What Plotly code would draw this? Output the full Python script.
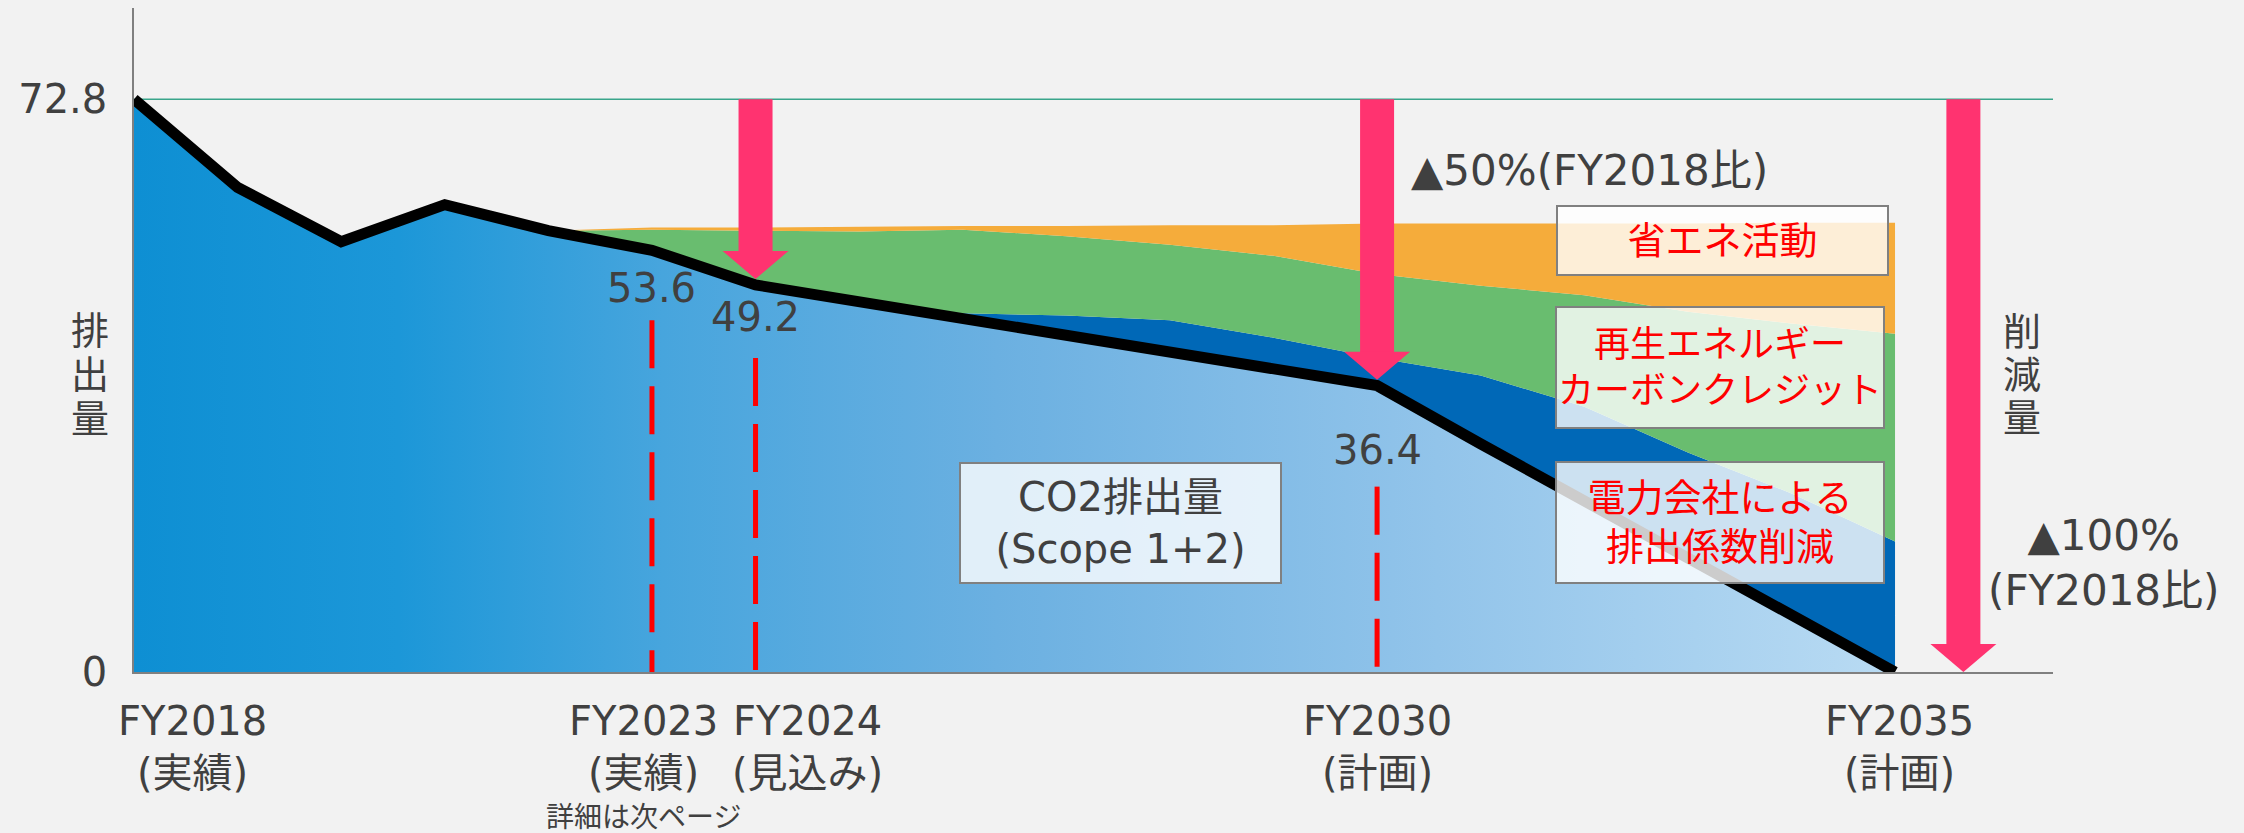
import numpy as np
import plotly.graph_objects as go

# ---------------- data ----------------
years = [2018, 2019, 2020, 2021, 2022, 2023, 2024, 2025, 2026,
         2027, 2028, 2029, 2030, 2031, 2032, 2033, 2034, 2035]
co2 = [72.8, 61.6, 54.7, 59.4, 56.1, 53.6, 49.2, 47.1, 45.0,
       42.8, 40.7, 38.5, 36.4, 29.0, 21.8, 14.5, 7.2, 0.0]

# reduction wedges stacked on top of the CO2 line (FY2022 .. FY2035)
red_years = [2022, 2023, 2024, 2025, 2026, 2027, 2028,
             2029, 2030, 2031, 2032, 2033, 2034, 2035]
red_power = [0, 0, 0, 0, 0.6, 2.5, 4.0, 4.0, 3.5, 8.7, 11.9, 13.4, 15.5, 16.6]
red_renew = [0, 2.6, 6.9, 8.9, 10.6, 10.1, 9.6, 10.4, 10.7, 11.4, 14.2, 17.9, 21.6, 26.4]
red_saving = [0, 0.3, 0.4, 0.6, 0.5, 1.3, 2.5, 3.9, 6.4, 7.9, 9.1, 11.2, 12.8, 14.1]

base_year = 2018
marked_years = [2023, 2024, 2030]
arrow_years = [2024, 2030]
final_year = 2035

tick_years = [2018, 2023, 2024, 2030, 2035]
tick_labels = ["FY2018<br>(実績)", "FY2023<br>(実績)", "FY2024<br>(見込み)",
               "FY2030<br>(計画)", "FY2035<br>(計画)"]
tick_note = "詳細は次ページ"

# ---------------- layout constants ----------------
W, H = 2244, 833
ML, MR, MT, MB = 134, 191, 8, 161
X_RANGE = [2018, 2036.525]
Y_RANGE = [0, 84.4]
PX_PER_Y = (H - MT - MB) / (Y_RANGE[1] - Y_RANGE[0])

FONT = "DejaVu Sans, Noto Sans CJK JP"
GREY_TXT = "#404040"
PINK = "#FF3370"
RED = "#FF0000"

base_value = co2[years.index(base_year)]

fig = go.Figure()

# CO2 emissions area with horizontal gradient
fig.add_trace(go.Scatter(
    x=years, y=co2, mode="lines", line=dict(width=0), fill="tozeroy",
    fillgradient=dict(type="horizontal", colorscale=[
        [0.0, "#0E8FD3"], [0.15, "#1C97D8"], [0.30, "#47A5DD"],
        [0.49, "#6BB0E1"], [0.74, "#92C4EA"], [1.0, "#B9DBF3"]]),
    hoverinfo="skip", showlegend=False))

# stacked reduction wedges
i0 = years.index(red_years[0])
base = np.array(co2[i0:i0 + len(red_years)])
top1 = base + np.array(red_power)
top2 = top1 + np.array(red_renew)
top3 = top2 + np.array(red_saving)

fig.add_trace(go.Scatter(x=red_years, y=base, mode="lines", line=dict(width=0),
                         hoverinfo="skip", showlegend=False))
for top, color in [(top1, "#0068B7"), (top2, "#69BD6F"), (top3, "#F5AC3B")]:
    fig.add_trace(go.Scatter(x=red_years, y=top, mode="lines", line=dict(width=0),
                             fill="tonexty", fillcolor=color,
                             hoverinfo="skip", showlegend=False))

# red dashed markers under value labels
dash_gap_px = [70, 73, 101]
label_gap_px = [38, 32, 64]
for yr, gap in zip(marked_years, dash_gap_px):
    v = co2[years.index(yr)]
    fig.add_trace(go.Scatter(x=[yr, yr], y=[v - gap / PX_PER_Y, 0], mode="lines",
                             line=dict(color=RED, width=5, dash="48px,18px"),
                             hoverinfo="skip", showlegend=False))

# black CO2 line
fig.add_trace(go.Scatter(x=years, y=co2, mode="lines",
                         line=dict(color="black", width=11),
                         hoverinfo="skip", showlegend=False))

# value labels
for yr, gap in zip(marked_years, label_gap_px):
    v = co2[years.index(yr)]
    fig.add_annotation(x=yr, y=v, xref="x", yref="y", text=f"{v:.1f}",
                       showarrow=False, yshift=-gap,
                       font=dict(size=40, color=GREY_TXT))

# reference line at FY2018 level
fig.add_shape(type="line", xref="paper", yref="y", x0=0, x1=1,
              y0=base_value, y1=base_value, layer="below",
              line=dict(color="#3AA58B", width=1.5))

# pink arrows
HEAD_W, HEAD_L, SHAFT_W = 33, 28, 34


def add_arrow(x, y_tip, gap_px):
    fig.add_shape(type="line", xref="x", yref="y", x0=x, x1=x, y0=base_value,
                  y1=y_tip + (gap_px + HEAD_L - 1) / PX_PER_Y,
                  line=dict(color=PINK, width=SHAFT_W))
    fig.add_shape(type="path", xref="x", yref="y", xsizemode="pixel",
                  ysizemode="pixel", xanchor=x, yanchor=y_tip,
                  path=f"M{-HEAD_W},{gap_px + HEAD_L} L{HEAD_W},{gap_px + HEAD_L} L0,{gap_px} Z",
                  fillcolor=PINK, line=dict(width=0))


for yr in arrow_years:
    add_arrow(yr, co2[years.index(yr)], 6)
add_arrow(final_year + 0.66, co2[years.index(final_year)], 0)

# x tick labels (small horizontal nudges keep neighbouring labels apart)
tick_xshift = [58, -8, 52, 0, 4]
for yr, lab, dx in zip(tick_years, tick_labels, tick_xshift):
    fig.add_annotation(x=yr, y=0, xref="x", yref="y", text=lab, showarrow=False,
                       xanchor="center", yanchor="top", yshift=-24, xshift=dx,
                       font=dict(size=40, color=GREY_TXT))
fig.add_annotation(x=2023, y=0, xref="x", yref="y", text=tick_note, showarrow=False,
                   xanchor="center", yanchor="middle", yshift=-145, xshift=-8,
                   font=dict(size=28, color=GREY_TXT))

# vertical axis titles
for i, ch in enumerate("排出量"):
    fig.add_annotation(x=0, xref="paper", y=37.8, yref="y", text=ch, showarrow=False,
                       xanchor="center", xshift=-44, yshift=(1 - i) * 44,
                       font=dict(size=38, color=GREY_TXT))
for i, ch in enumerate("削減量"):
    fig.add_annotation(x=1, xref="paper", y=37.8, yref="y", text=ch, showarrow=False,
                       xanchor="center", xshift=-31, yshift=(1 - i) * 43,
                       font=dict(size=38, color=GREY_TXT))

# reduction texts
fig.add_annotation(x=arrow_years[1], y=63.8, xref="x", yref="y",
                   text="▲50%(FY2018比)", showarrow=False, xanchor="left",
                   xshift=32, font=dict(size=42, color=GREY_TXT))
fig.add_annotation(x=1, xref="paper", y=13.8, yref="y",
                   text="▲100%<br>(FY2018比)", showarrow=False, xanchor="center",
                   xshift=50, font=dict(size=42, color=GREY_TXT))

# labelled boxes
BOX = dict(showarrow=False, bgcolor="rgba(255,255,255,0.8)", bordercolor="#808080",
           borderwidth=2, borderpad=0, align="center", valign="middle",
           xref="x", yref="y", xanchor="center", yanchor="middle")
fig.add_annotation(x=2027.52, y=19.0, text="CO2排出量<br>(Scope 1+2)",
                   width=319, height=118, font=dict(size=40, color=GREY_TXT), **BOX)
fig.add_annotation(x=2033.33, y=54.9, text="省エネ活動",
                   width=329, height=67, font=dict(size=38, color=RED), **BOX)
fig.add_annotation(x=2033.31, y=38.7, text="再生エネルギー<br>カーボンクレジット",
                   width=326, height=119, font=dict(size=36, color=RED), **BOX)
fig.add_annotation(x=2033.31, y=19.0, text="電力会社による<br>排出係数削減",
                   width=326, height=119, font=dict(size=38, color=RED), **BOX)

fig.update_layout(
    width=W, height=H, margin=dict(l=ML, r=MR, t=MT, b=MB, pad=0),
    paper_bgcolor="#F2F2F2", plot_bgcolor="#F2F2F2",
    font=dict(family=FONT, color=GREY_TXT),
    showlegend=False, hovermode=False,
    xaxis=dict(range=X_RANGE, showgrid=False, zeroline=False, showticklabels=False,
               ticks="", showline=True, linecolor="#808080", linewidth=2,
               fixedrange=True),
    yaxis=dict(range=Y_RANGE, showgrid=False, zeroline=False, tickmode="array",
               tickvals=[0, base_value], ticktext=["0", f"{base_value}"],
               ticks="", ticklabelstandoff=17, tickfont=dict(size=40, color=GREY_TXT),
               showline=True, linecolor="#808080", linewidth=1.5, fixedrange=True),
)

fig.write_html("out.html", config={"displayModeBar": False},
               post_script="document.body.style.margin='0';document.body.style.overflow='hidden';")
